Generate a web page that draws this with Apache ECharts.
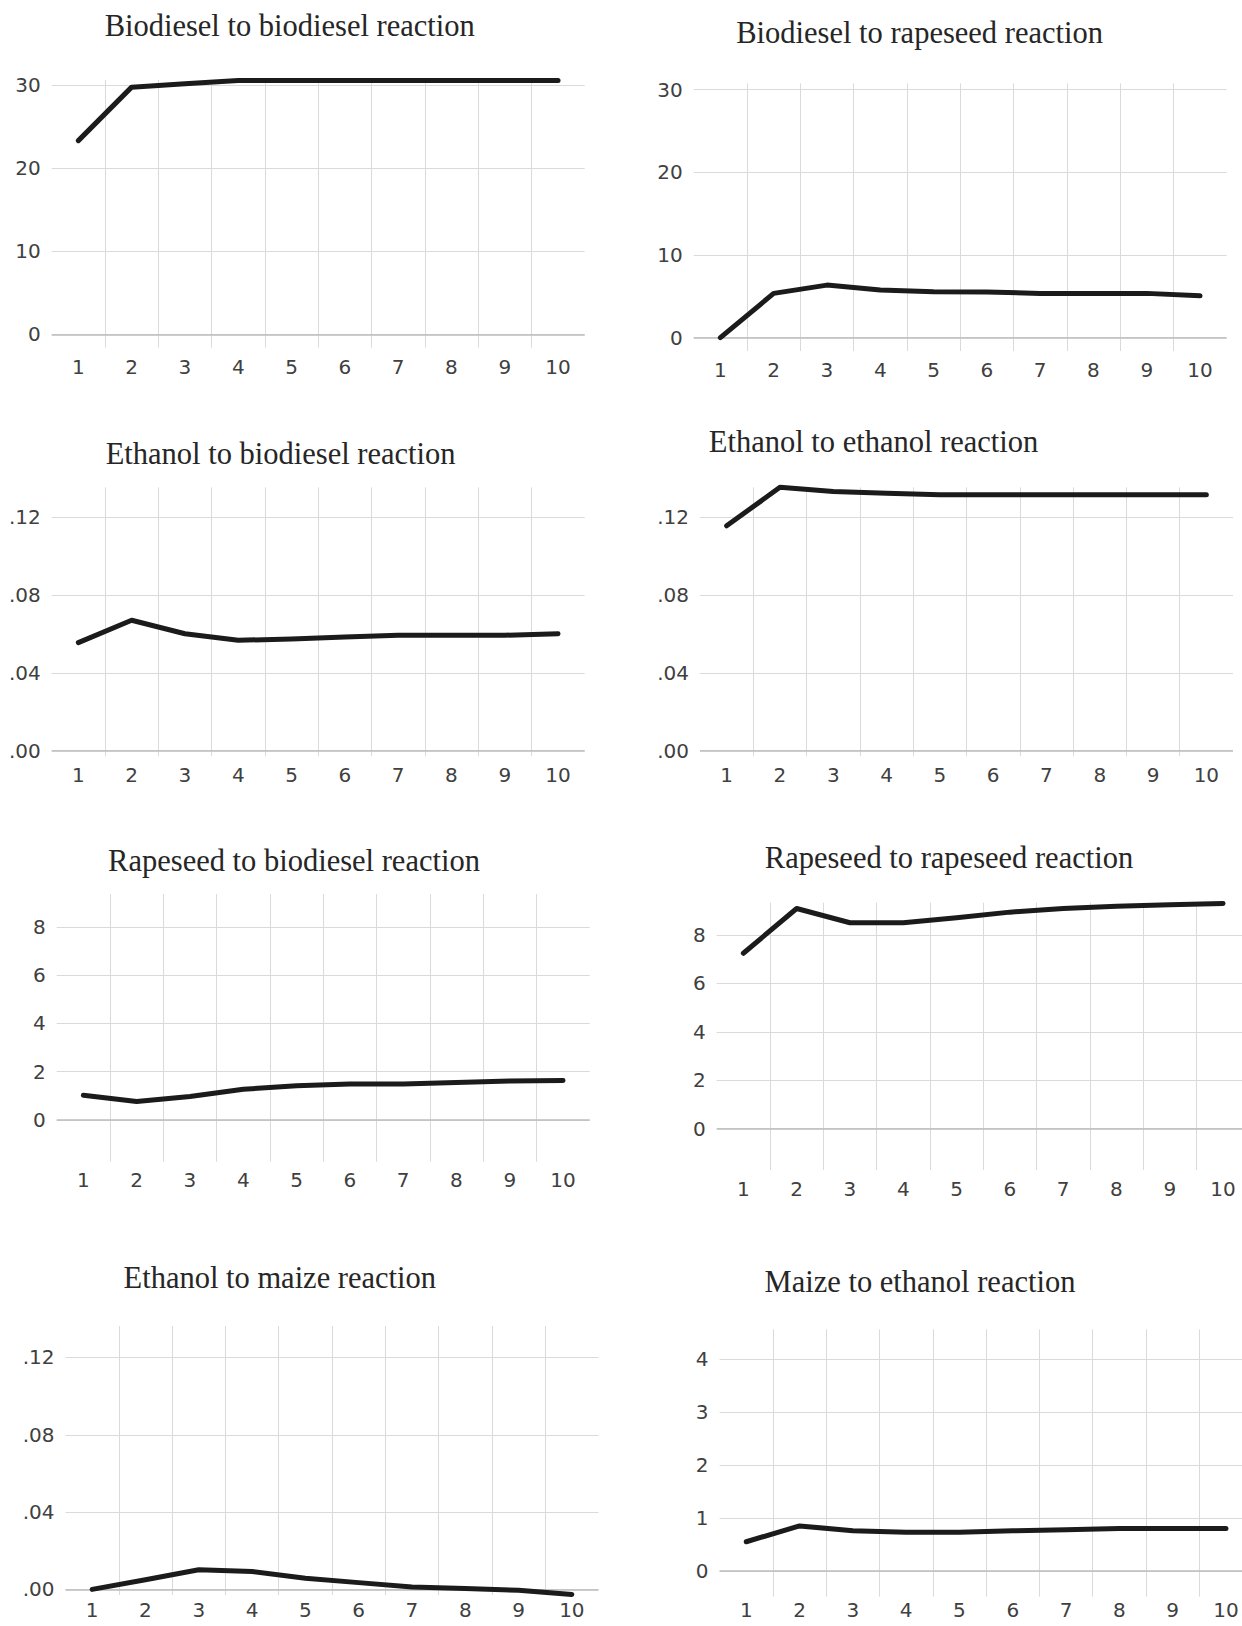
<!DOCTYPE html>
<html>
<head>
<meta charset="utf-8">
<script src="https://cdn.jsdelivr.net/npm/echarts@6/dist/echarts.min.js"></script>
<style>
html,body{margin:0;padding:0;background:#ffffff;}
#chart{width:1242px;height:1626px;}
</style>
</head>
<body>
<div id="chart"></div>
<script>
// ---- data ----
const periods = ['1','2','3','4','5','6','7','8','9','10'];
const panelTitles = [
  'Biodiesel to biodiesel reaction',
  'Biodiesel to rapeseed reaction',
  'Ethanol to biodiesel reaction',
  'Ethanol to ethanol reaction',
  'Rapeseed to biodiesel reaction',
  'Rapeseed to rapeseed reaction',
  'Ethanol to maize reaction',
  'Maize to ethanol reaction'
];
const biodieselToBiodiesel = [23.35, 29.8, 30.2, 30.6, 30.6, 30.6, 30.6, 30.6, 30.6, 30.6];
const biodieselToRapeseed  = [0, 5.36, 6.36, 5.76, 5.56, 5.52, 5.36, 5.36, 5.36, 5.07];
const ethanolToBiodiesel   = [0.0555, 0.067, 0.0601, 0.0567, 0.0574, 0.0584, 0.0593, 0.0593, 0.0593, 0.0601];
const ethanolToEthanol     = [0.1156, 0.1354, 0.1332, 0.1323, 0.1316, 0.1316, 0.1316, 0.1316, 0.1316, 0.1316];
const rapeseedToBiodiesel  = [1.02, 0.76, 0.97, 1.27, 1.42, 1.49, 1.49, 1.55, 1.61, 1.63];
const rapeseedToRapeseed   = [7.25, 9.1, 8.51, 8.51, 8.72, 8.95, 9.1, 9.19, 9.26, 9.31];
const ethanolToMaize       = [0, 0.005, 0.0102, 0.0093, 0.0058, 0.0035, 0.0012, 0.0004, -0.0005, -0.0026];
const maizeToEthanol       = [0.55, 0.85, 0.76, 0.73, 0.73, 0.756, 0.775, 0.80, 0.80, 0.80];

// y-axis extents and tick steps
const yAxisMin  = [-1.62, -1.61, -0.0028, -0.0028, -1.73, -1.71, -0.0029, -0.49];
const yAxisMax  = [30.66, 30.77, 0.1354, 0.1354, 9.36, 9.34, 0.1363, 4.57];
const yAxisStep = [10, 10, 0.04, 0.04, 2, 2, 0.04, 1];
const decimalTickLabels = [false, false, true, true, false, false, true, false];

const seriesValues = [
  biodieselToBiodiesel, biodieselToRapeseed,
  ethanolToBiodiesel, ethanolToEthanol,
  rapeseedToBiodiesel, rapeseedToRapeseed,
  ethanolToMaize, maizeToEthanol
];

// ---- layout (pixels) ----
const layout = [
  {left: 51.7,  top: 80,     height: 267.7, tx: 289.7, ty: 25.5,   xm: 9},
  {left: 693.7, top: 83.3,   height: 267.7, tx: 919.6, ty: 33,     xm: 9},
  {left: 51.7,  top: 487.3,  height: 268.7, tx: 280.6, ty: 453.7,  xm: 9},
  {left: 700,   top: 487.3,  height: 268.7, tx: 873.6, ty: 442,    xm: 9},
  {left: 56.7,  top: 894,    height: 267.7, tx: 294,   ty: 860.5,  xm: 8},
  {left: 716.7, top: 902.7,  height: 267.3, tx: 949,   ty: 857.5,  xm: 9},
  {left: 65.5,  top: 1326,   height: 269,   tx: 279.8, ty: 1278.3, xm: 5},
  {left: 719.6, top: 1329.3, height: 267.4, tx: 920,   ty: 1282,   xm: 3.5}
];
const gridWidth = 533;

const gridColor = '#dadada';
const zeroColor = '#bcbcbc';
const labelFont = 'DejaVu Sans';
const labelColor = '#404040';

const grids = [], xAxes = [], yAxes = [], series = [], graphics = [];
layout.forEach((p, i) => {
  grids.push({left: p.left, top: p.top, width: gridWidth, height: p.height,
    containLabel: false, outerBoundsMode: 'none'});
  xAxes.push({
    type: 'category', gridIndex: i, data: periods, boundaryGap: true,
    axisLine: {show: false}, axisTick: {show: false},
    axisLabel: {interval: 0, margin: p.xm, fontFamily: labelFont, fontSize: 20, color: labelColor},
    splitLine: {show: true, interval: 0, showMinLine: false, showMaxLine: false,
      lineStyle: {color: gridColor, width: 1}}
  });
  const dec = decimalTickLabels[i];
  yAxes.push({
    type: 'value', gridIndex: i,
    min: yAxisMin[i], max: yAxisMax[i],
    minInterval: yAxisStep[i], maxInterval: yAxisStep[i], splitNumber: 4,
    axisLine: {show: false}, axisTick: {show: false},
    axisLabel: {
      margin: 11, fontFamily: labelFont, fontSize: 20, color: labelColor,
      showMinLabel: false, showMaxLabel: false,
      formatter: function (v) {
        if (dec) return Math.abs(v).toFixed(2).replace(/^0\./, '.');
        return String(Math.round(v));
      }
    },
    splitLine: {show: true, showMinLine: false, showMaxLine: false,
      lineStyle: {color: gridColor, width: 1}}
  });
  series.push({
    type: 'line', xAxisIndex: i, yAxisIndex: i,
    data: seriesValues[i], symbol: 'none', clip: false, z: 3,
    lineStyle: {color: '#1b1b1b', width: 5, cap: 'round', join: 'round'},
    animation: false,
    markLine: {
      silent: true, z: 1, symbol: ['none', 'none'], animation: false,
      label: {show: false},
      lineStyle: {color: zeroColor, type: 'solid', width: 1.5},
      emphasis: {disabled: true},
      data: [{yAxis: 0}]
    }
  });
  graphics.push({
    type: 'text', x: p.tx, y: p.ty, silent: true,
    style: {
      text: panelTitles[i], fill: '#262626',
      font: '30.5px "Liberation Serif", "Times New Roman", serif',
      align: 'center', verticalAlign: 'middle'
    }
  });
});

const chart = echarts.init(document.getElementById('chart'), null, {renderer: 'svg', width: 1242, height: 1626});
chart.setOption({
  animation: false,
  backgroundColor: '#ffffff',
  grid: grids,
  xAxis: xAxes,
  yAxis: yAxes,
  series: series,
  graphic: graphics
});
</script>
</body>
</html>
